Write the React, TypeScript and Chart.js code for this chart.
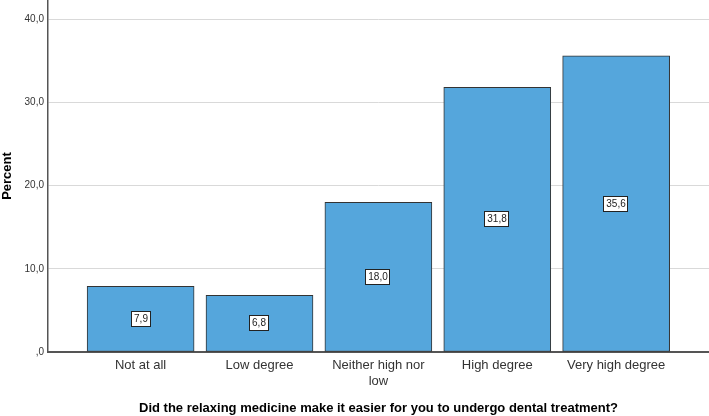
import React, { useEffect, useRef } from "react";
import { Chart, registerables } from "chart.js";

Chart.register(...registerables);

const categories: (string | string[])[] = [
  "Not at all",
  "Low degree",
  ["Neither high nor", "low"],
  "High degree",
  "Very high degree",
];
const percents: number[] = [7.9, 6.8, 18.0, 31.8, 35.6];
const yTicks: number[] = [0, 10, 20, 30, 40];
const xTitle = "Did the relaxing medicine make it easier for you to undergo dental treatment?";
const yTitle = "Percent";

const FONT = "'Liberation Sans', Arial, sans-serif";

const fmt = (v: number) => (v === 0 ? ",0" : v.toFixed(1).replace(".", ","));

// Boxed value label in the middle of each bar
const valueBoxes = {
  id: "valueBoxes",
  afterDatasetsDraw(chart: any) {
    const ctx = chart.ctx as CanvasRenderingContext2D;
    const meta = chart.getDatasetMeta(0);
    ctx.save();
    ctx.font = `10px ${FONT}`;
    ctx.textAlign = "center";
    ctx.textBaseline = "middle";
    meta.data.forEach((el: any, i: number) => {
      const text = fmt(percents[i]);
      const w = Math.round(ctx.measureText(text).width + 6);
      const h = 16;
      const cx = Math.round(el.x);
      const cy = Math.round((el.y + el.base) / 2);
      const x0 = cx - Math.round(w / 2);
      const y0 = cy - h / 2;
      ctx.fillStyle = "#ffffff";
      ctx.fillRect(x0, y0, w, h);
      ctx.strokeStyle = "#222222";
      ctx.lineWidth = 1;
      ctx.strokeRect(x0 + 0.5, y0 + 0.5, w - 1, h - 1);
      ctx.fillStyle = "#222222";
      ctx.fillText(text, cx, cy + 0.5);
    });
    ctx.restore();
  },
};

export default function App() {
  const ref = useRef<HTMLCanvasElement>(null);

  useEffect(() => {
    if (!ref.current) return;
    const chart = new Chart(ref.current, {
      type: "bar",
      data: {
        datasets: [
          {
            data: percents.map((p, i) => ({ x: i + 1, y: p })),
            backgroundColor: "#55a6dc",
            borderColor: "#333333",
            borderWidth: 1,
            borderSkipped: false,
            barThickness: 107,
          },
        ],
      },
      options: {
        responsive: false,
        animation: false,
        devicePixelRatio: 1,
        layout: { padding: 0 },
        plugins: { legend: { display: false }, tooltip: { enabled: false } },
        scales: {
          x: {
            type: "linear",
            offset: false,
            min: 0.221,
            max: 5.781,
            grid: { display: false, drawTicks: false, tickLength: 0 },
            border: { color: "#555555", width: 2 },
            afterBuildTicks: (s: any) => {
              s.ticks = categories.map((_, i) => ({ value: i + 1 }));
            },
            afterFit: (s: any) => {
              s.height = 64;
              s.paddingLeft = 0;
              s.paddingRight = 0;
            },
            ticks: {
              autoSkip: false,
              maxRotation: 0,
              padding: 6,
              color: "#333333",
              font: { family: FONT, size: 13, lineHeight: 1.2 },
              callback: (v: any) => categories[Number(v) - 1],
            },
            title: {
              display: true,
              text: xTitle,
              color: "#000000",
              padding: 0,
              font: { family: FONT, size: 13, weight: "bold" },
            },
          },
          y: {
            min: 0,
            max: 42.3,
            grid: { color: "#d9d9d9", lineWidth: 1, drawTicks: false, tickLength: 0 },
            border: { color: "#555555", width: 1.5 },
            afterBuildTicks: (s: any) => {
              s.ticks = yTicks.map((v) => ({ value: v }));
            },
            afterFit: (s: any) => {
              s.width = 48;
              s.paddingTop = 0;
              s.paddingBottom = 0;
            },
            ticks: {
              padding: 4,
              color: "#333333",
              font: { family: FONT, size: 10 },
              callback: (v: any) => fmt(Number(v)),
            },
            title: {
              display: true,
              text: yTitle,
              color: "#000000",
              padding: { top: 0, bottom: 0, left: 2, right: 0 } as any,
              font: { family: FONT, size: 13, weight: "bold" },
            },
          },
        },
      },
      plugins: [valueBoxes],
    });
    return () => chart.destroy();
  }, []);

  return (
    <div style={{ position: "absolute", left: 0, top: 0, width: 709, height: 416, background: "#fff" }}>
      <canvas ref={ref} width={709} height={416} />
    </div>
  );
}
